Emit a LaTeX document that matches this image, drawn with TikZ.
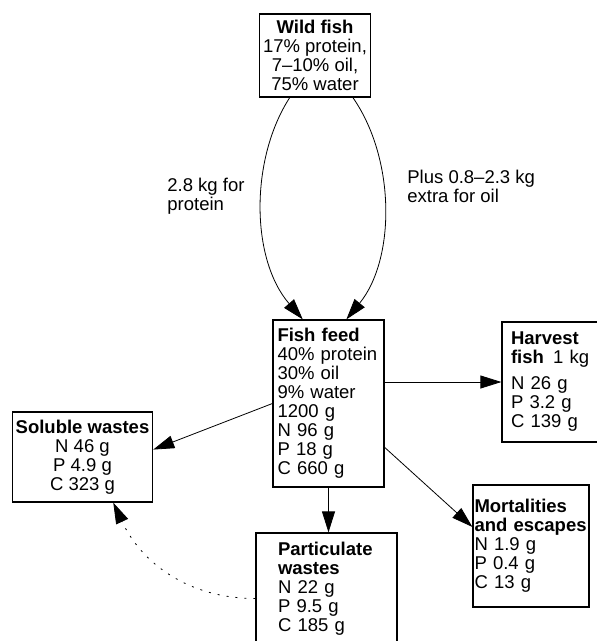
\documentclass[tikz,border=0pt]{standalone}
\usepackage{fontspec}
\setmainfont{Liberation Sans}
\usepackage{tikz}
\usetikzlibrary{arrows.meta}

\begin{document}
\begin{tikzpicture}[x=1pt,y=-1pt,->,>={Triangle[length=21pt,width=13pt]},
  line width=0.8pt,
  box node/.style={rectangle,fill=white,draw,line width=1.2pt,inner ysep=2pt,font=\fontsize{18.5}{19}\selectfont},
  left node/.style={box node,align=left},
  mid node/.style={box node,align=center},
  text node/.style={inner sep=0pt,align=left,anchor=west,font=\fontsize{18.5}{19}\selectfont}]

  \useasboundingbox (0,0) rectangle (597,641);

  % boxes
  \node[mid node,minimum width=106pt,minimum height=83pt] (wild) at (315,55.5)
    {\textbf{Wild fish}\\17\% protein,\\7--10\% oil,\\75\% water};
  \node[left node,text width=102pt,inner xsep=4.5pt,minimum height=167pt] (feed) at (328.5,403.5)
    {\textbf{Fish feed}\\40\% protein\\30\% oil\\9\% water\\1200 g\\N 96 g\\P 18 g\\C 660 g};
  \node[left node,text width=82pt,inner xsep=9pt,minimum height=120pt] (harv) at (552,382)
    {\textbf{Harvest}\\\textbf{fish}\enspace 1 kg\\[7pt]N 26 g\\P 3.2 g\\C 139 g};
  \node[mid node,minimum width=139pt,minimum height=90pt] (sol) at (82.5,457)
    {\textbf{Soluble wastes}\\N 46 g\\P 4.9 g\\C 323 g};
  \node[left node,text width=113pt,inner xsep=1.5pt,minimum height=122pt] (mort) at (531,546)
    {\textbf{Mortalities}\\\textbf{and escapes}\\N 1.9 g\\P 0.4 g\\C 13 g};
  \node[left node,text width=97pt,inner xsep=22pt,minimum height=111pt] (part) at (326.5,588.5)
    {\textbf{Particulate}\\\textbf{wastes}\\N 22 g\\P 9.5 g\\C 185 g};

  % labels
  \node[text node] (prot) at (167,196) {2.8 kg for\\protein};
  \node[text node] (oil) at (407,186.5) {Plus 0.8--2.3 kg\\extra for oil};

  \draw (wild.-121) .. controls +(-40,62) and +(-52,-60) .. (feed.107.6);
  \draw (wild.-48) .. controls +(43,62) and +(49,-60) .. (feed.78);
  \draw (feed.east |- harv.west) -- (harv.west);
  \draw (feed.-38.7) -- (mort.162);
  \draw (feed.west) -- (sol.6);
  \draw (feed.south) -- (feed.south |- part.north);
  \draw[dash pattern=on 2pt off 7pt] (part.188) to[out=180,in=-65] (sol.-56);

\end{tikzpicture}
\end{document}
